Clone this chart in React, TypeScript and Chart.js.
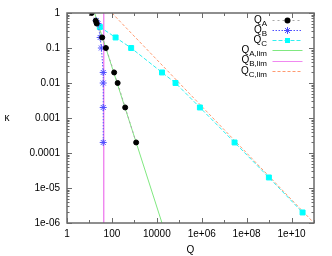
import React, { useEffect, useRef } from "react";
import { Chart, registerables } from "chart.js";

Chart.register(...registerables);

// ---- data ----
const qA = [12.5, 19, 21, 37, 54, 126, 180, 390, 1200];
const kA = [1, 0.6, 0.5, 0.2, 0.1, 0.02, 0.01, 0.002, 0.0002];

const qB = [20, 24, 30, 34, 41, 41, 41, 41];
const kB = [0.6, 0.5, 0.2, 0.1, 0.02, 0.01, 0.002, 0.0002];

const qC = [29, 146, 720, 17000, 68000, 830000, 2.9e7, 9.8e8, 3.1e10];
const kC = [0.4, 0.2, 0.1, 0.02, 0.01, 0.002, 0.0002, 2e-5, 2e-6];

const qALim = [17, 17000];
const kALim = [1, 1e-6];
const qBLim = [43, 43];
const kBLim = [1, 1e-6];
const qCLim = [100, 1e11];
const kCLim = [1, 1e-6];

const xTickValues = [1, 100, 1e4, 1e6, 1e8, 1e10];
const xTickLabels = ["1", "100", "10000", "1e+06", "1e+08", "1e+10"];
const yTickValues = [1, 0.1, 0.01, 0.001, 1e-4, 1e-5, 1e-6];
const yTickLabels = ["1", "0.1", "0.01", "0.001", "0.0001", "1e-05", "1e-06"];

const legendMain = ["Q", "Q", "Q", "Q", "Q", "Q"];
const legendSub = ["A", "B", "C", "A,lim", "B,lim", "C,lim"];

const xTitle = "Q";
const yTitle = "κ";

const FONT = "'Liberation Sans', Arial, sans-serif";

const toPts = (xs: number[], ys: number[]) => xs.map((x, i) => ({ x, y: ys[i] }));

const styles = [
  { color: "#a8a8a8", dash: [2, 3], point: "circle", pColor: "#000000" },
  { color: "#5050ff", dash: [1.5, 1.5], point: "star", pColor: "#4d4dff" },
  { color: "#30f0f0", dash: [4, 2], point: "rect", pColor: "#00ffff" },
  { color: "#80e880", dash: [], point: "", pColor: "" },
  { color: "#f088f0", dash: [], point: "", pColor: "" },
  { color: "#ff9a70", dash: [3, 2], point: "", pColor: "" },
];

function drawMarker(ctx: CanvasRenderingContext2D, kind: string, x: number, y: number, color: string) {
  ctx.save();
  ctx.setLineDash([]);
  if (kind === "circle") {
    ctx.fillStyle = color;
    ctx.beginPath();
    ctx.arc(x, y, 3, 0, Math.PI * 2);
    ctx.fill();
  } else if (kind === "star") {
    ctx.strokeStyle = color;
    ctx.lineWidth = 1;
    const r = 3.5;
    ctx.beginPath();
    ctx.moveTo(x - r, y); ctx.lineTo(x + r, y);
    ctx.moveTo(x, y - r); ctx.lineTo(x, y + r);
    const d = r * Math.SQRT1_2;
    ctx.moveTo(x - d, y - d); ctx.lineTo(x + d, y + d);
    ctx.moveTo(x - d, y + d); ctx.lineTo(x + d, y - d);
    ctx.stroke();
  } else if (kind === "rect") {
    ctx.fillStyle = color;
    ctx.fillRect(x - 2.5, y - 2.5, 5, 5);
  }
  ctx.restore();
}

const framePlugin = {
  id: "frame",
  afterDraw(chart: any) {
    const ctx: CanvasRenderingContext2D = chart.ctx;
    const a = chart.chartArea;
    const xs = chart.scales.x;
    const ys = chart.scales.y;
    ctx.save();
    ctx.strokeStyle = "#6a6a6a";
    ctx.lineWidth = 1;
    ctx.setLineDash([]);
    // x ticks
    for (let e = 0; e <= 11; e++) {
      const px = Math.round(xs.getPixelForValue(Math.pow(10, e))) + 0.5;
      const len = e % 2 === 0 ? 5 : 3;
      ctx.beginPath();
      ctx.moveTo(px, a.bottom); ctx.lineTo(px, a.bottom - len);
      ctx.moveTo(px, a.top); ctx.lineTo(px, a.top + len);
      ctx.stroke();
    }
    // y ticks
    for (let e = -6; e <= 0; e++) {
      for (let m = 1; m <= 9; m++) {
        const v = m * Math.pow(10, e);
        if (v > 1.0000001) continue;
        const py = Math.round(ys.getPixelForValue(v)) + 0.5;
        const len = m === 1 ? 5 : 2.5;
        ctx.beginPath();
        ctx.moveTo(a.left, py); ctx.lineTo(a.left + len, py);
        ctx.moveTo(a.right, py); ctx.lineTo(a.right - len, py);
        ctx.stroke();
        if (e === 0) break;
      }
    }
    // border
    ctx.lineWidth = 1.5;
    ctx.strokeRect(a.left, a.top, a.right - a.left, a.bottom - a.top);

    // y title (upright)
    ctx.fillStyle = "#000";
    ctx.font = `10px ${FONT}`;
    ctx.textAlign = "center";
    ctx.textBaseline = "middle";
    ctx.fillText(yTitle, 7, (a.top + a.bottom) / 2);

    // legend
    const xEnd = 267;
    for (let i = 0; i < legendMain.length; i++) {
      const rowY = 19.8 + 10.2 * i;
      ctx.font = `8px ${FONT}`;
      const subW = ctx.measureText(legendSub[i]).width;
      ctx.font = `10px ${FONT}`;
      const mainW = ctx.measureText(legendMain[i]).width;
      ctx.textAlign = "left";
      ctx.textBaseline = "middle";
      ctx.fillStyle = "#000";
      ctx.fillText(legendMain[i], xEnd - subW - mainW, rowY);
      ctx.font = `8px ${FONT}`;
      ctx.fillText(legendSub[i], xEnd - subW, rowY + 3.5);
      const s = styles[i];
      ctx.strokeStyle = s.color;
      ctx.lineWidth = 1;
      ctx.setLineDash(s.dash);
      ctx.beginPath();
      ctx.moveTo(272.5, Math.round(rowY) + 0.5);
      ctx.lineTo(302.5, Math.round(rowY) + 0.5);
      ctx.stroke();
      ctx.setLineDash([]);
      if (s.point) drawMarker(ctx, s.point, 287.5, Math.round(rowY) + 0.5, s.pColor);
    }
    ctx.restore();
  },
};

export default function App() {
  const ref = useRef<HTMLCanvasElement | null>(null);
  useEffect(() => {
    if (!ref.current) return;
    Chart.defaults.font.family = FONT;
    Chart.defaults.color = "#000";
    const mk = (i: number, data: any[], extra: any) => ({
      data,
      showLine: true,
      borderColor: styles[i].color,
      borderWidth: 1,
      borderDash: styles[i].dash,
      fill: false,
      ...extra,
    });
    const chart = new Chart(ref.current, {
      type: "scatter",
      data: {
        datasets: [
          mk(0, toPts(qA, kA), {
            pointStyle: "circle", pointRadius: 2.5, pointBackgroundColor: "#000", pointBorderColor: "#000", pointBorderWidth: 1,
          }),
          mk(1, toPts(qB, kB), {
            pointStyle: "star", pointRadius: 3.5, pointBackgroundColor: "#4d4dff", pointBorderColor: "#4d4dff", pointBorderWidth: 1,
          }),
          mk(2, toPts(qC, kC), {
            pointStyle: "rect", pointRadius: 3.5, pointBackgroundColor: "#00ffff", pointBorderColor: "#00ffff", pointBorderWidth: 1,
          }),
          mk(3, toPts(qALim, kALim), { pointRadius: 0 }),
          mk(4, toPts(qBLim, kBLim), { pointRadius: 0 }),
          mk(5, toPts(qCLim, kCLim), { pointRadius: 0 }),
        ],
      },
      options: {
        animation: false,
        responsive: false,
        maintainAspectRatio: false,
        layout: { padding: { left: 0, top: 12, right: 18, bottom: 0 } },
        plugins: { legend: { display: false }, tooltip: { enabled: false } },
        scales: {
          x: {
            type: "logarithmic",
            min: 1,
            max: 1e11,
            grid: { display: false, drawTicks: false },
            border: { display: false },
            afterBuildTicks: (s: any) => { s.ticks = xTickValues.map((v) => ({ value: v })); },
            afterFit: (s: any) => { s.height = 33; },
            ticks: {
              autoSkip: false, maxRotation: 0, minRotation: 0, padding: 5,
              font: { size: 10 },
              callback: (_v: any, i: number) => xTickLabels[i],
            },
            title: { display: true, text: xTitle, font: { size: 10 }, padding: { top: 0, bottom: 0 } },
          },
          y: {
            type: "logarithmic",
            min: 1e-6,
            max: 1,
            grid: { display: false, drawTicks: false },
            border: { display: false },
            afterBuildTicks: (s: any) => { s.ticks = yTickValues.map((v) => ({ value: v })); },
            afterFit: (s: any) => { s.width = 67; },
            ticks: {
              autoSkip: false, padding: 7,
              font: { size: 10 },
              callback: (_v: any, i: number) => yTickLabels[i],
            },
          },
        },
      },
      plugins: [framePlugin],
    } as any);
    return () => chart.destroy();
  }, []);
  return (
    <div style={{ position: "absolute", left: 0, top: 0, width: 332, height: 256, background: "#fff" }}>
      <canvas ref={ref} width={332} height={256} style={{ width: 332, height: 256 }} />
    </div>
  );
}
